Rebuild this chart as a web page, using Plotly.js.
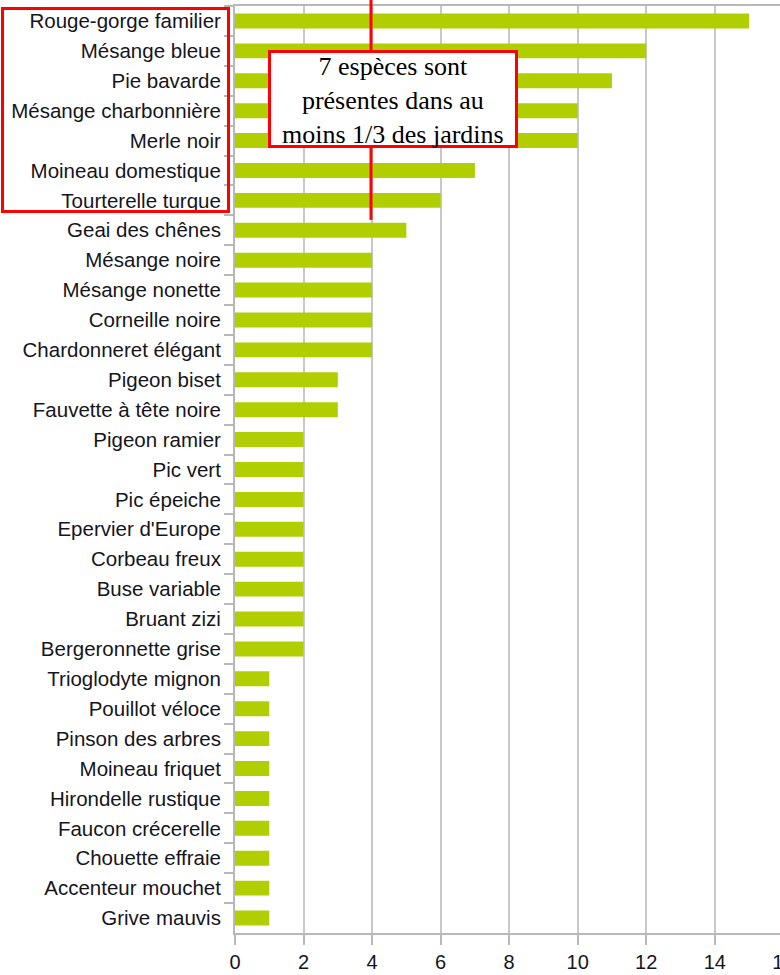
<!DOCTYPE html>
<html>
<head>
<meta charset="utf-8">
<script src="https://cdn.plot.ly/plotly-3.0.1.min.js"></script>
<style>
html, body { margin: 0; padding: 0; overflow: hidden; background: #fff; }
#chart { width: 784px; height: 975px; }
</style>
</head>
<body>
<div id="chart"></div>
<script>
const species = [
  "Rouge-gorge familier", "Mésange bleue", "Pie bavarde", "Mésange charbonnière",
  "Merle noir", "Moineau domestique", "Tourterelle turque", "Geai des chênes",
  "Mésange noire", "Mésange nonette", "Corneille noire", "Chardonneret élégant",
  "Pigeon biset", "Fauvette à tête noire", "Pigeon ramier", "Pic vert",
  "Pic épeiche", "Epervier d'Europe", "Corbeau freux", "Buse variable",
  "Bruant zizi", "Bergeronnette grise", "Trioglodyte mignon", "Pouillot véloce",
  "Pinson des arbres", "Moineau friquet", "Hirondelle rustique", "Faucon crécerelle",
  "Chouette effraie", "Accenteur mouchet", "Grive mauvis"
];
const counts = [15, 12, 11, 10, 10, 7, 6, 5, 4, 4, 4, 4, 3, 3, 2, 2, 2, 2, 2, 2, 2, 2, 1, 1, 1, 1, 1, 1, 1, 1, 1];
const xTicks = [0, 2, 4, 6, 8, 10, 12, 14, 16];
const noteText = "7 espèces sont<br>présentes dans au<br>moins 1/3 des jardins";

const W = 784, H = 975;
const mL = 235, mR = 0, mT = 6, mB = 41.5;
const pw = W - mL - mR, ph = H - mT - mB;
const px = v => (v - mL) / pw;
const py = v => (H - mB - v) / ph;

const red = "#ff0000";
const trace = {
  type: "bar",
  orientation: "h",
  x: counts,
  y: species,
  marker: { color: "rgb(176,206,0)", line: { width: 0 } },
  hoverinfo: "x+y"
};

const layout = {
  width: W, height: H,
  margin: { l: mL, r: mR, t: mT, b: mB, pad: 0 },
  paper_bgcolor: "#fff", plot_bgcolor: "#fff",
  showlegend: false,
  bargap: 0.5,
  font: { family: "Liberation Sans, Arial, sans-serif", size: 20.5, color: "#15151c" },
  xaxis: {
    range: [0, 16.02], tickvals: xTicks, ticktext: xTicks.map(String),
    ticklabeloverflow: "allow",
    ticks: "outside", ticklen: 10, tickwidth: 2, tickcolor: "#b8b8b8",
    showgrid: true, gridcolor: "#c8c8c8", gridwidth: 2,
    showline: true, linecolor: "#b8b8b8", linewidth: 2, mirror: true,
    zeroline: false, fixedrange: true,
    tickfont: { size: 20 }
  },
  yaxis: {
    type: "category", autorange: "reversed",
    categoryorder: "array", categoryarray: species,
    tickson: "boundaries",
    ticks: "outside", ticklen: 9, tickwidth: 2, tickcolor: "#b8b8b8",
    showline: true, linecolor: "#b8b8b8", linewidth: 2,
    showgrid: false, zeroline: false, fixedrange: true,
    ticklabelstandoff: 8,
    tickfont: { size: 20.5 }
  },
  shapes: [
    { type: "rect", xref: "paper", yref: "paper",
      x0: px(2.5), x1: px(228.5), y0: py(8.5), y1: py(211.5),
      line: { color: red, width: 3 }, fillcolor: "rgba(0,0,0,0)", layer: "above" },
    { type: "line", xref: "paper", yref: "paper",
      x0: px(371), x1: px(371), y0: py(0), y1: py(51),
      line: { color: red, width: 3 }, layer: "above" },
    { type: "line", xref: "paper", yref: "paper",
      x0: px(371), x1: px(371), y0: py(147), y1: py(220),
      line: { color: red, width: 3 }, layer: "above" },
    { type: "rect", xref: "paper", yref: "paper",
      x0: px(269.5), x1: px(516.5), y0: py(51.5), y1: py(146.5),
      line: { color: red, width: 3 }, fillcolor: "#ffffff", layer: "above" }
  ],
  annotations: [
    { xref: "paper", yref: "paper", x: px(393), y: py(101),
      xanchor: "center", yanchor: "middle", showarrow: false, align: "center",
      text: noteText,
      font: { family: "Liberation Serif, Times New Roman, serif", size: 26, color: "#000" } }
  ]
};

Plotly.newPlot("chart", [trace], layout, { displayModeBar: false, staticPlot: true });
</script>
</body>
</html>
